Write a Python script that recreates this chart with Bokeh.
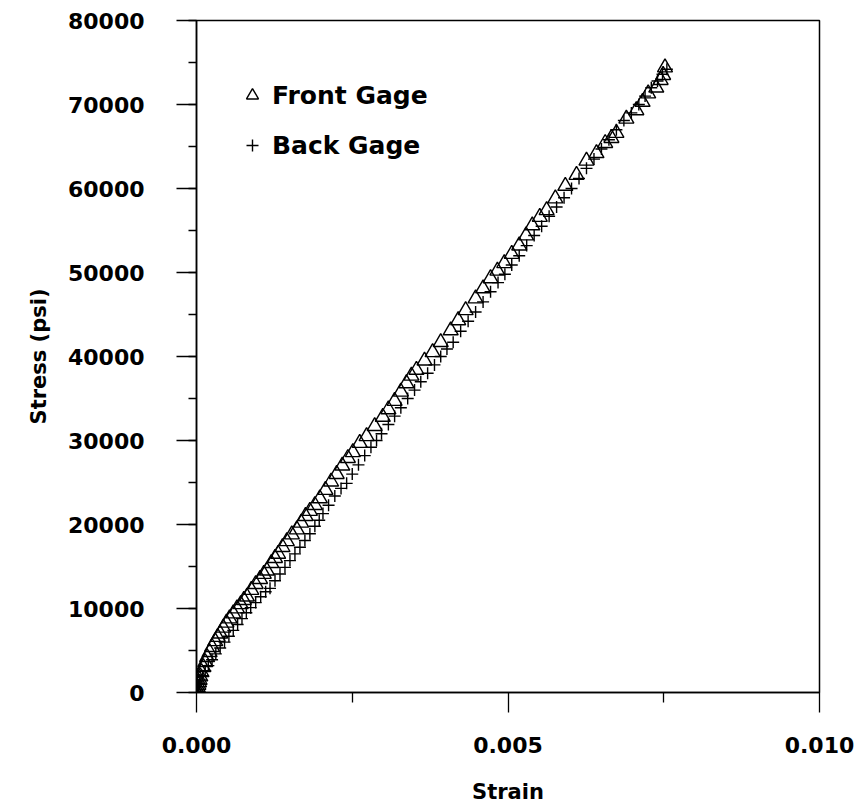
from bokeh.plotting import figure
from bokeh.models import Range1d, FixedTicker, SingleIntervalTicker, Legend, LegendItem
from bokeh.embed import file_html
from bokeh.resources import INLINE

# Front gage (triangles): strain, stress (psi)
front_strain = [0.0, 0.00001, 0.00002, 0.00003, 0.00004, 0.00005, 0.00006, 0.00008, 0.00011, 0.00014,
                0.00017, 0.00021, 0.00025, 0.00030, 0.00034, 0.00038, 0.00043, 0.00048, 0.00053, 0.00059,
                0.00065, 0.00071, 0.00076, 0.00081, 0.00088, 0.00095, 0.00102, 0.00108, 0.00113, 0.00120,
                0.00126, 0.00131, 0.00138, 0.00145, 0.00153, 0.00161, 0.00168, 0.00175, 0.00182, 0.00190,
                0.00198, 0.00207, 0.00216, 0.00225, 0.00234, 0.00243, 0.00251, 0.00262, 0.00273, 0.00286,
                0.00299, 0.00308, 0.00318, 0.00328, 0.00337, 0.00345, 0.00353, 0.00366, 0.00379, 0.00392,
                0.00408, 0.00420, 0.00432, 0.00448, 0.00460, 0.00472, 0.00483, 0.00494, 0.00506, 0.00518,
                0.00529, 0.00539, 0.00551, 0.00562, 0.00576, 0.00592, 0.00610, 0.00626, 0.00642, 0.00656,
                0.00666, 0.00674, 0.00690, 0.00706, 0.00716, 0.00725, 0.00738, 0.00745, 0.00749, 0.00752]
front_stress = [0, 300, 600, 900, 1200, 1500, 1900, 2400, 3000, 3600,
                4200, 4800, 5400, 6100, 6600, 7000, 7700, 8300, 8800, 9400,
                10000, 10500, 11000, 11400, 12200, 12900, 13500, 14100, 14500, 15400,
                16000, 16500, 17300, 18000, 18800, 19400, 20200, 21000, 21600, 22300,
                23100, 24100, 25100, 26000, 27000, 27900, 28600, 29700, 30500, 31700,
                32800, 33700, 34700, 35800, 36800, 37700, 38400, 39500, 40500, 41700,
                43100, 44300, 45500, 46900, 48100, 49300, 50200, 51100, 52200, 53200,
                54400, 55600, 56600, 57400, 58800, 60300, 61600, 63300, 64200, 65400,
                66000, 66600, 68300, 69300, 70300, 71300, 72000, 72900, 73500, 74400]

# Back gage (plus signs): strain, stress (psi)
back_strain = [0.0, 0.00002, 0.00003, 0.00005, 0.00007, 0.00010, 0.00014, 0.00019, 0.00025, 0.00031,
               0.00038, 0.00045, 0.00052, 0.00059, 0.00066, 0.00073, 0.00080, 0.00087, 0.00095, 0.00103,
               0.00111, 0.00118, 0.00126, 0.00134, 0.00142, 0.00150, 0.00158, 0.00166, 0.00174, 0.00182,
               0.00190, 0.00197, 0.00203, 0.00212, 0.00222, 0.00232, 0.00241, 0.00250, 0.00260, 0.00270,
               0.00280, 0.00289, 0.00297, 0.00308, 0.00318, 0.00328, 0.00339, 0.00350, 0.00360, 0.00371,
               0.00382, 0.00392, 0.00402, 0.00412, 0.00424, 0.00436, 0.00448, 0.00460, 0.00472, 0.00484,
               0.00495, 0.00506, 0.00518, 0.00530, 0.00542, 0.00554, 0.00566, 0.00578, 0.00590, 0.00602,
               0.00614, 0.00626, 0.00638, 0.00650, 0.00662, 0.00674, 0.00686, 0.00698, 0.00710, 0.00720,
               0.00730, 0.00740, 0.00748, 0.00755]
back_stress = [0, 300, 700, 1100, 1500, 2000, 2600, 3200, 3900, 4600,
               5300, 6000, 6700, 7400, 8100, 8800, 9500, 10100, 10700, 11400,
               12000, 12400, 13300, 14100, 14900, 15700, 16500, 17300, 18100, 18900,
               19800, 20500, 21300, 22300, 23400, 24300, 24900, 26000, 27100, 28200,
               29200, 30000, 30800, 31900, 32900, 33900, 35000, 36000, 37000, 38000,
               39000, 40000, 40900, 41700, 43000, 44200, 45300, 46500, 47700, 48800,
               49800, 50900, 52000, 53200, 54400, 55500, 56700, 57800, 58900, 60000,
               61200, 62400, 63500, 64700, 65800, 67000, 68100, 69000, 70000, 71000,
               72000, 72800, 73600, 74200]

x_ticks = [0.0, 0.005, 0.010]
x_tick_labels = ["0.000", "0.005", "0.010"]
x_minor = [0.0025, 0.0075]

FONT = "DejaVu Sans"

p = figure(width=865, height=807, output_backend="svg", toolbar_location=None,
           x_range=Range1d(0, 0.010), y_range=Range1d(0, 80000),
           min_border_left=196, min_border_right=46, min_border_top=20, min_border_bottom=115)
p.grid.visible = False
p.outline_line_color = "black"
p.outline_line_width = 1.5
p.background_fill_color = "white"
p.border_fill_color = "white"

r1 = p.scatter(front_strain, front_stress, marker="triangle", size=15, fill_color=None,
               line_color="black", line_width=1.4)
r2 = p.scatter(back_strain, back_stress, marker="cross", size=12,
               line_color="black", line_width=1.4)

xa = p.xaxis[0]
xa.ticker = FixedTicker(ticks=x_ticks, minor_ticks=x_minor)
xa.major_label_overrides = {t: l for t, l in zip(x_ticks, x_tick_labels)}
xa.axis_label = "Strain"
ya = p.yaxis[0]
ya.ticker = SingleIntervalTicker(interval=10000, num_minor_ticks=2)
ya.axis_label = "Stress (psi)"

for ax in (xa, ya):
    ax.axis_line_color = "black"
    ax.axis_line_width = 1.5
    ax.major_tick_line_color = "black"
    ax.minor_tick_line_color = "black"
    ax.major_tick_line_width = 1.3
    ax.minor_tick_line_width = 1.3
    ax.major_tick_in = 0
    ax.minor_tick_in = 0
    ax.major_tick_out = 20
    ax.major_label_text_font = FONT
    ax.major_label_text_font_style = "bold"
    ax.major_label_text_font_size = "22px"
    ax.major_label_text_color = "black"
    ax.axis_label_text_font = FONT
    ax.axis_label_text_font_style = "bold"
    ax.axis_label_text_font_size = "21px"
    ax.axis_label_text_color = "black"
xa.minor_tick_out = 10
ya.minor_tick_out = 8
xa.major_label_standoff = 24
ya.major_label_standoff = 32
xa.axis_label_standoff = 24
ya.axis_label_standoff = 14

legend = Legend(items=[LegendItem(label="Front Gage", renderers=[r1]),
                       LegendItem(label="Back Gage", renderers=[r2])],
                location=(41, 527), padding=0, margin=0, spacing=10,
                glyph_width=30, glyph_height=40, label_height=40, label_standoff=5,
                border_line_color=None, background_fill_alpha=0,
                label_text_font=FONT, label_text_font_style="bold",
                label_text_font_size="25px", label_text_color="black")
p.add_layout(legend)

open("out.html", "w").write(file_html(p, INLINE))
